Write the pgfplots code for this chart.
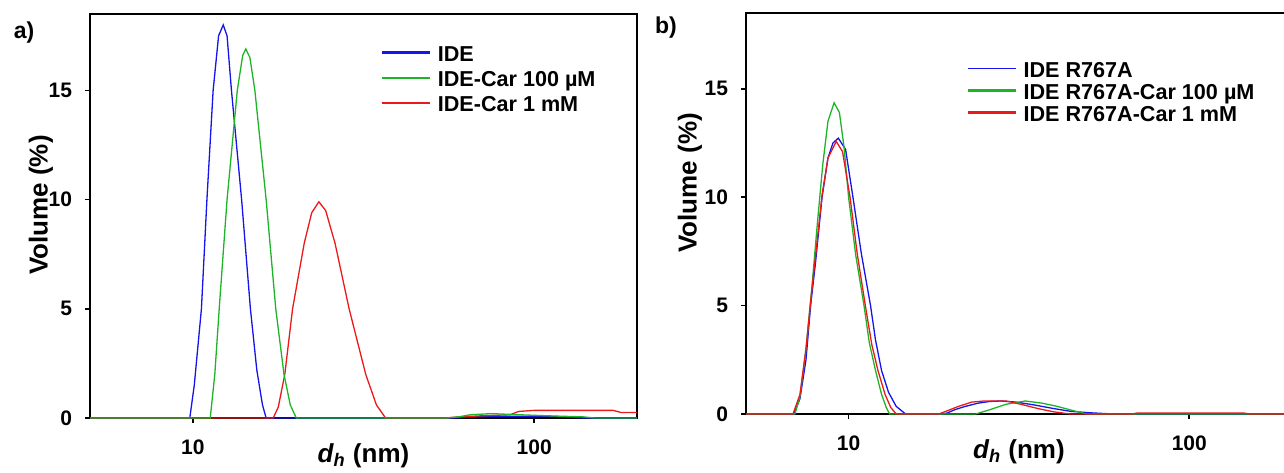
\documentclass[border=0pt]{standalone}
\usepackage{fontspec}
\setmainfont{Liberation Sans}
\usepackage{pgfplots}
\pgfplotsset{compat=1.18}

\definecolor{cblue}{RGB}{20,20,235}
\definecolor{cgreen}{RGB}{30,180,40}
\definecolor{cred}{RGB}{235,25,25}

\begin{document}
\begin{tikzpicture}
% ---------------- panel a ----------------
\begin{axis}[at={(45pt,27pt)}, anchor=south west, width=273.5pt, height=202pt,
    scale only axis, xmode=log, xmin=5, xmax=200, ymin=0, ymax=18.5,
    xtick={10,100}, xticklabels={10,100}, xminorticks=false,
    ytick={0,5,10,15},
    tick align=outside, tick pos=left, major tick length=2.5pt,
    axis line style={line width=1pt},
    every tick/.style={black, line width=0.8pt},
    ticklabel style={font=\bfseries\fontsize{10.5}{12}\selectfont},
    yticklabel style={xshift=-3pt},
    xticklabel style={yshift=-5pt},
    every axis x label/.style={at={(axis description cs:0.5,0)}, anchor=base, yshift=-22pt,
      font=\bfseries\fontsize{13}{15}\selectfont},
    every axis y label/.style={at={(axis description cs:-0.0896,0.527)}, rotate=90, anchor=center,
      font=\bfseries\fontsize{13}{15}\selectfont},
    legend style={draw=none, fill=none, inner sep=0pt, font=\bfseries\fontsize{10.8}{12}\selectfont,
      row sep=1pt, nodes={inner sep=1pt, text height=7.5pt, text depth=2pt},
      at={(0.53,0.925)}, anchor=north west},
    legend cell align=left,
    legend image code/.code={\draw[#1] (0pt,1.7pt) -- (24pt,1.7pt); \path[draw=none,fill=none] (0pt,3.9pt) (27pt,1.7pt);},
  xlabel={\itshape d\textsubscript{\itshape h}\upshape{} (nm)}, ylabel={Volume (\%)},
  /pgf/number format/assume math mode=true]
\addplot[cblue, line width=0.65pt, forget plot] coordinates {
 (5,0) (9.8,0) (10.1,1.5) (10.6,5) (11.0,10) (11.47,15) (11.9,17.5) (12.28,18.0) (12.6,17.5)
 (12.98,15) (13.9,10) (14.75,5) (15.4,2.2) (16.0,0.6) (16.4,0) (58,0) (65,0.04) (75,0.08)
 (90,0.08) (110,0.08) (125,0.04) (140,0) (200,0)};
\addplot[cred, line width=0.65pt, forget plot] coordinates {
 (5,0) (17.2,0) (17.8,0.5) (18.6,2) (19.6,5) (21.2,8) (22.3,9.4) (23.4,9.9) (24.5,9.5)
 (26.1,8) (28.7,5) (32.1,2) (34.5,0.6) (36.7,0) (55,0) (60,0.05) (70,0.1) (85,0.15) (90,0.3)
 (100,0.35) (120,0.35) (170,0.35) (180,0.25) (200,0.25)};
\addplot[cgreen, line width=0.65pt, forget plot] coordinates {
 (5,0) (11.25,0) (11.6,2) (11.95,5) (12.6,10) (13.5,15) (14.0,16.6) (14.3,16.9) (14.7,16.5)
 (15.2,15) (16.4,10) (17.5,5) (18.5,2) (19.3,0.6) (20.1,0) (55,0) (60,0.05) (65,0.15) (75,0.2)
 (90,0.15) (110,0.1) (140,0.05) (150,0) (200,0)};
\addlegendimage{cblue, line width=1.5pt}\addlegendentry{IDE}
\addlegendimage{cgreen, line width=0.8pt}\addlegendentry{IDE-Car 100 µM}
\addlegendimage{cred, line width=0.8pt}\addlegendentry{IDE-Car 1 mM}
\end{axis}
% ---------------- panel b ----------------
\begin{axis}[at={(373pt,29pt)}, anchor=south west, width=272.9pt, height=200.6pt,
    scale only axis, xmode=log, xmin=5, xmax=200, ymin=0, ymax=18.5,
    xtick={10,100}, xticklabels={10,100}, xminorticks=false,
    ytick={0,5,10,15},
    tick align=outside, tick pos=left, major tick length=2.5pt,
    axis line style={line width=1pt},
    every tick/.style={black, line width=0.8pt},
    ticklabel style={font=\bfseries\fontsize{10.5}{12}\selectfont},
    yticklabel style={xshift=-3pt},
    xticklabel style={yshift=-5pt},
    every axis x label/.style={at={(axis description cs:0.5,0)}, anchor=base, yshift=-22pt,
      font=\bfseries\fontsize{13}{15}\selectfont},
    every axis y label/.style={at={(axis description cs:-0.1026,0.576)}, rotate=90, anchor=center,
      font=\bfseries\fontsize{13}{15}\selectfont},
    legend style={draw=none, fill=none, inner sep=0pt, font=\bfseries\fontsize{10.8}{12}\selectfont,
      row sep=-0.6pt, nodes={inner sep=1pt, text height=7.5pt, text depth=2pt},
      at={(0.4026,0.882)}, anchor=north west},
    legend cell align=left,
    legend image code/.code={\draw[#1] (0pt,1.7pt) -- (24pt,1.7pt); \path[draw=none,fill=none] (0pt,3.9pt) (27pt,1.7pt);},
  xlabel={\itshape d\textsubscript{\itshape h}\upshape{} (nm)}, ylabel={Volume (\%)},
  /pgf/number format/assume math mode=true]
\addplot[cblue, line width=0.65pt, forget plot] coordinates {
 (5,0) (6.9,0) (7.2,0.7) (7.5,2.5) (7.74,5.0) (8.0,7.0) (8.36,10.0) (8.7,11.8) (9.0,12.5)
 (9.33,12.72) (9.8,12.2) (10.3,10.0) (10.9,7.4) (11.6,5.0) (12.0,3.4) (12.5,2.0) (13.1,1.0)
 (13.8,0.35) (14.7,0) (18.9,0) (19.5,0.05) (20.5,0.2) (22,0.35) (24,0.5) (26,0.58) (28,0.6)
 (31,0.55) (35,0.42) (40,0.25) (45,0.12) (52,0.05) (60,0) (200,0)};
\addplot[cgreen, line width=0.65pt, forget plot] coordinates {
 (5,0) (6.96,0) (7.2,0.8) (7.5,3.0) (7.8,5.8) (8.1,8.8) (8.4,11.5) (8.7,13.5) (9.07,14.35)
 (9.4,13.9) (9.7,12.3) (10.0,10.0) (10.5,7.3) (11.1,5.0) (11.5,3.3) (12.0,2.0) (12.5,0.9)
 (12.9,0.3) (13.2,0) (23.6,0) (26,0.2) (29,0.45) (33,0.6) (37,0.5) (41,0.35) (45,0.18)
 (50,0) (200,0)};
\addplot[cred, line width=0.65pt, forget plot] coordinates {
 (5,0) (6.87,0) (7.2,0.9) (7.5,3.0) (7.74,5.2) (8.0,7.3) (8.36,10.1) (8.7,11.8) (9.2,12.57)
 (9.6,12.1) (10.1,10.0) (10.6,7.4) (11.2,5.0) (11.7,3.2) (12.2,2.0) (12.8,0.9) (13.3,0.3)
 (13.8,0) (18.4,0) (19.5,0.15) (21,0.35) (23,0.55) (25,0.6) (29,0.6) (32,0.45) (36,0.25)
 (40,0.1) (44.7,0) (68,0) (70,0.04) (145,0.04) (150,0) (200,0)};
\addlegendimage{cblue, line width=0.8pt}\addlegendentry{IDE R767A}
\addlegendimage{cgreen, line width=1.4pt}\addlegendentry{IDE R767A-Car 100 µM}
\addlegendimage{cred, line width=1.4pt}\addlegendentry{IDE R767A-Car 1 mM}
\end{axis}
\node[font=\bfseries\fontsize{11.5}{13}\selectfont] at (12pt,219.5pt) {a)};
\node[font=\bfseries\fontsize{11.5}{13}\selectfont] at (333pt,222pt) {b)};
\pgfresetboundingbox
\useasboundingbox (0,0) rectangle (642pt,236pt);
\end{tikzpicture}
\end{document}
